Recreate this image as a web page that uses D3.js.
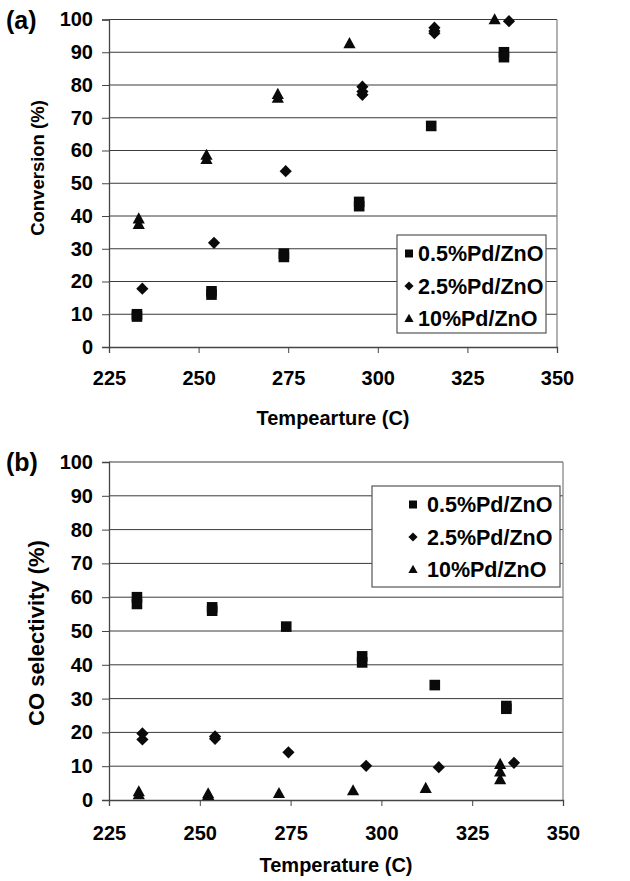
<!DOCTYPE html>
<html>
<head>
<meta charset="utf-8">
<script src="https://cdn.jsdelivr.net/npm/d3@7"></script>
<style>
  body { margin: 0; background: #fff; }
  svg { display: block; font-family: "Liberation Sans", Arial, sans-serif; font-weight: bold; }
</style>
</head>
<body>
<div id="chart"></div>
<script>
// --- data ---
const seriesNames = ["0.5%Pd/ZnO", "2.5%Pd/ZnO", "10%Pd/ZnO"];
const xTicks = [225, 250, 275, 300, 325, 350];
const yTicks = [0, 10, 20, 30, 40, 50, 60, 70, 80, 90, 100];

// (a) conversion
const convTemp05 = [232.8, 232.8, 253.6, 253.6, 273.8, 273.8, 294.8, 294.8, 314.9, 335.2, 335.2];
const conv05 = [10, 9.3, 17, 16, 28.5, 27.5, 44.3, 43, 67.5, 90, 88.5];
const convTemp25 = [234.3, 254.3, 274.3, 295.7, 295.7, 295.7, 315.8, 315.8, 315.8, 336.6];
const conv25 = [17.8, 31.8, 53.7, 79.5, 78, 77, 97.5, 96.5, 95.8, 99.5];
const convTemp10 = [233.3, 233.3, 252.2, 252.2, 272.1, 272.1, 292.1, 332.6];
const conv10 = [39.2, 37.5, 58.6, 57.3, 77.2, 76, 92.7, 100];

// (b) CO selectivity
const selTemp05 = [232.7, 232.7, 253.4, 253.4, 273.8, 294.7, 294.7, 314.7, 334.4, 334.4];
const sel05 = [60, 58, 57, 56, 51.3, 42.5, 40.7, 34, 27.8, 27];
const selTemp25 = [234.2, 234.2, 254.2, 254.2, 274.4, 295.8, 315.8, 336.5];
const sel25 = [19.7, 17.9, 18.8, 18.1, 14.1, 10.1, 9.7, 11];
const selTemp10 = [233.2, 233.2, 252.3, 252.3, 271.8, 292.2, 312.2, 332.7, 332.7, 332.7];
const sel10 = [2.5, 1.6, 1.9, 1.4, 2, 2.8, 3.5, 10.6, 8.4, 6.1];

const zip = (xs, ys) => xs.map((x, i) => ({ t: x, v: ys[i] }));

// marker shapes, s = half width
const shapes = [
  s => `M${-s},${-s}H${s}V${s}H${-s}Z`,
  s => `M0,${-s * 1.15}L${s * 1.15},0L0,${s * 1.15}L${-s * 1.15},0Z`,
  s => `M0,${-s * 1.2}L${s * 1.15},${s * 0.9}H${-s * 1.15}Z`
];

const svg = d3.select("#chart")
  .append("svg")
  .attr("width", 630)
  .attr("height", 881);

const drawPanel = opts => {
  const xScale = d3.scaleLinear().domain([225, 350]).range([opts.left, opts.right]);
  const yScale = d3.scaleLinear().domain([0, 100]).range([opts.bottom, opts.top]);
  const g = svg.append("g");

  // gridlines
  g.append("g")
    .selectAll("line")
    .data(yTicks.slice(1))
    .enter()
    .append("line")
    .attr("x1", opts.left)
    .attr("x2", opts.right)
    .attr("y1", d => yScale(d))
    .attr("y2", d => yScale(d))
    .attr("stroke", "#3a3a3a")
    .attr("stroke-width", 1);

  // right border
  g.append("line")
    .attr("x1", opts.right).attr("x2", opts.right)
    .attr("y1", opts.top).attr("y2", opts.bottom)
    .attr("stroke", "#888")
    .attr("stroke-width", 1.3);

  const yAxis = g.append("g")
    .attr("transform", `translate(${opts.left},0)`)
    .call(d3.axisLeft(yScale).tickValues(yTicks).tickSize(7).tickPadding(9));

  const xAxis = g.append("g")
    .attr("transform", `translate(0,${opts.bottom})`)
    .call(d3.axisBottom(xScale).tickValues(xTicks).tickSize(6).tickPadding(opts.xPad));

  [yAxis, xAxis].forEach(ax => {
    ax.select(".domain").attr("stroke", "#444").attr("stroke-width", 1.3);
    ax.selectAll(".tick line").attr("stroke", "#444");
    ax.selectAll("text")
      .attr("fill", "#000")
      .style("font-size", "20px")
      .style("font-weight", "bold")
      .style("font-family", '"Liberation Sans", Arial, sans-serif');
  });

  // points
  opts.series.forEach((pts, si) => {
    g.append("g")
      .selectAll("path")
      .data(pts)
      .enter()
      .append("path")
      .attr("transform", d => `translate(${xScale(d.t)},${yScale(d.v)})`)
      .attr("d", shapes[si](5.3))
      .attr("fill", "#0a0a0a");
  });

  // panel label and axis titles
  svg.append("text")
    .attr("x", 6)
    .attr("y", opts.top + 9)
    .style("font-size", "25px")
    .attr("fill", "#000")
    .text(opts.label);

  svg.append("text")
    .attr("transform", `translate(44,${opts.yTitleY}) rotate(-90)`)
    .attr("text-anchor", "middle")
    .style("font-size", opts.yTitleSize + "px")
    .attr("fill", "#000")
    .text(opts.yTitle);

  svg.append("text")
    .attr("x", (opts.left + opts.right) / 2)
    .attr("y", opts.xTitleY)
    .attr("text-anchor", "middle")
    .style("font-size", "20px")
    .attr("fill", "#000")
    .text(opts.xTitle);

  // legend
  const lg = svg.append("g");
  lg.append("rect")
    .attr("x", opts.legend.x)
    .attr("y", opts.legend.y)
    .attr("width", opts.legend.w)
    .attr("height", opts.legend.h)
    .attr("fill", "#fff")
    .attr("stroke", "#555")
    .attr("stroke-width", 1.2);

  const rows = lg.selectAll(".row")
    .data(seriesNames)
    .enter()
    .append("g")
    .attr("transform", (d, i) => `translate(${opts.legend.x + opts.legend.markerDx},${opts.legend.y + 18.5 + i * 32.5})`);

  rows.append("path")
    .attr("d", (d, i) => shapes[i](4))
    .attr("fill", "#0a0a0a");

  rows.append("text")
    .attr("x", opts.legend.textDx)
    .attr("y", 7.5)
    .style("font-size", "21.5px")
    .attr("fill", "#000")
    .text(d => d);
};

drawPanel({
  left: 109, right: 557, top: 19.5, bottom: 347,
  xPad: 18,
  label: "(a)",
  yTitle: "Conversion (%)", yTitleY: 168, yTitleSize: 18.5,
  xTitle: "Tempearture (C)", xTitleY: 425,
  series: [zip(convTemp05, conv05), zip(convTemp25, conv25), zip(convTemp10, conv10)],
  legend: { x: 397, y: 235, w: 149, h: 98, markerDx: 12, textDx: 9 }
});

drawPanel({
  left: 109, right: 563, top: 462, bottom: 800,
  xPad: 20,
  label: "(b)",
  yTitle: "CO selectivity (%)", yTitleY: 633, yTitleSize: 22,
  xTitle: "Temperature (C)", xTitleY: 872,
  series: [zip(selTemp05, sel05), zip(selTemp25, sel25), zip(selTemp10, sel10)],
  legend: { x: 372, y: 486, w: 188, h: 101, markerDx: 41, textDx: 14 }
});
</script>
</body>
</html>
